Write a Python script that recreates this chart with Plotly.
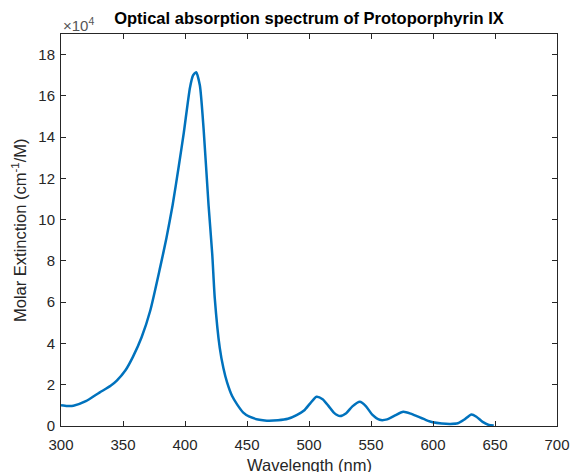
import plotly.graph_objects as go

# Wavelength (nm)
wavelength = [300, 305, 310, 320, 331, 340, 345, 352, 358, 365, 372, 380, 385, 390, 395,
              399, 404, 406.5, 409, 412, 415, 419, 422, 424, 428, 431, 434, 438, 442,
              447, 452, 460, 466, 475, 483, 490, 496, 501, 506, 511, 516, 520, 525, 530,
              535, 541, 546, 551, 557, 563, 569, 576, 582, 588, 594, 600, 607, 614, 620,
              625, 631, 635, 640, 645, 649]
# Molar extinction (cm^-1/M), in units of 1e4
extinction_e4 = [1.01, 0.97, 0.98, 1.2, 1.62, 1.95, 2.2, 2.7, 3.35, 4.3, 5.6, 7.7, 9.1, 10.7, 12.6,
                 14.2, 16.4, 17.0, 17.15, 16.5, 14.4, 10.7, 8.3, 6.2, 3.8, 2.8, 2.1, 1.45, 1.05,
                 0.65, 0.45, 0.3, 0.26, 0.28, 0.35, 0.53, 0.75, 1.1, 1.42, 1.3, 0.95, 0.65, 0.48, 0.62,
                 0.95, 1.17, 0.95, 0.55, 0.3, 0.32, 0.5, 0.69, 0.6, 0.45, 0.3, 0.18, 0.12, 0.1, 0.13,
                 0.3, 0.56, 0.45, 0.2, 0.05, 0.02]
extinction = [v * 1e4 for v in extinction_e4]

x_ticks = [300, 350, 400, 450, 500, 550, 600, 650, 700]
y_tick_labels = [0, 2, 4, 6, 8, 10, 12, 14, 16, 18]

FONT = "Liberation Sans, Arial, sans-serif"
AX = "#262626"

fig = go.Figure()
fig.add_trace(go.Scatter(x=wavelength, y=extinction, mode="lines",
                         line=dict(color="#0072BD", width=2.5, shape="spline", smoothing=0.6),
                         showlegend=False, hoverinfo="skip"))

axis_common = dict(showline=True, linecolor=AX, linewidth=1, mirror="ticks",
                   ticks="inside", ticklen=5, tickcolor=AX, tickwidth=1,
                   showgrid=False, zeroline=False, automargin=False,
                   tickfont=dict(family=FONT, size=15, color=AX))

fig.update_xaxes(range=[300, 700], tickvals=x_ticks, ticklabelstandoff=5, **axis_common)
fig.update_yaxes(range=[0, 190000], tickvals=[v * 1e4 for v in y_tick_labels],
                 ticktext=[str(v) for v in y_tick_labels], ticklabelstandoff=2, **axis_common)

fig.update_layout(
    width=571, height=472,
    margin=dict(l=61, r=14, t=34, b=46, autoexpand=False),
    paper_bgcolor="white", plot_bgcolor="white",
    font=dict(family=FONT, color=AX),
    title=dict(text="<b>Optical absorption spectrum of Protoporphyrin IX</b>",
               x=0.5, xref="paper", xanchor="center",
               y=1 - 18 / 472, yref="container", yanchor="middle",
               font=dict(family=FONT, size=16.5, color="black")),
    annotations=[
        dict(text="Wavelength (nm)", xref="paper", yref="paper", x=0.5, y=0,
             xanchor="center", yanchor="top", yshift=-28, showarrow=False,
             font=dict(family=FONT, size=16.5, color=AX)),
        dict(text="Molar Extinction (cm<sup>-1</sup>/M)", xref="paper", yref="paper",
             x=0, y=0.5, xanchor="right", yanchor="middle", xshift=-30, textangle=-90,
             showarrow=False, font=dict(family=FONT, size=16.5, color=AX)),
        dict(text="×10<sup>4</sup>", xref="paper", yref="paper", x=0, y=1,
             xanchor="left", yanchor="bottom", yshift=-2, showarrow=False,
             font=dict(family=FONT, size=15, color="#555555")),
    ],
)

fig.write_html("out.html")
